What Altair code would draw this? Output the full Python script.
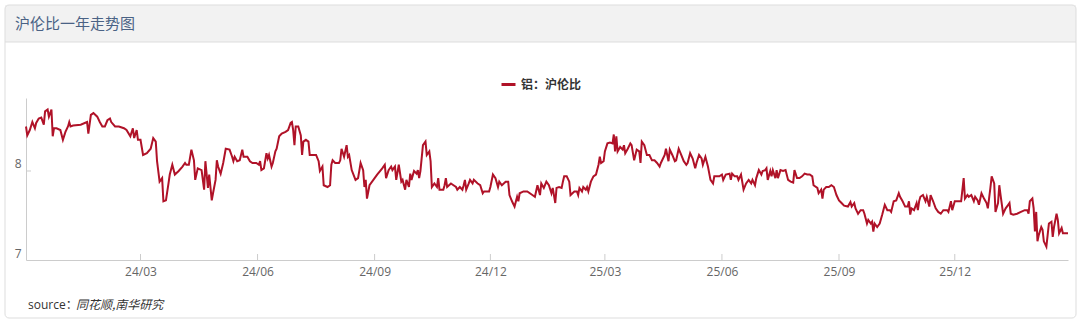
import altair as alt
import pandas as pd

# ---------------- data ----------------
START_DATE = "2023-12-02"
series_name = "铝：沪伦比"
header_title = "沪伦比一年走势图"
source_label = "source："
source_text = "同花顺,南华研究"
x_tick_dates = ["2024-03-01", "2024-06-01", "2024-09-01", "2024-12-01",
                "2025-03-01", "2025-06-01", "2025-09-01", "2025-12-01"]
y_tick_values = [7, 8]
y_domain = [7, 8.82]

day_offsets = [
    0, 1, 3, 5, 7, 8, 10, 12, 14, 15, 17, 18, 20, 21, 22, 24, 27, 29, 31, 33,
    34, 35, 37, 43, 48, 49, 51, 53, 56, 58, 60, 62, 64, 66, 67, 70, 73, 77, 79, 82,
    84, 85, 87, 88, 90, 92, 95, 98, 100, 102, 103, 105, 107, 108, 110, 112, 113, 115, 117, 120,
    123, 125, 126, 128, 130, 132, 133, 135, 138, 140, 141, 143, 144, 146, 147, 149, 150, 151, 153, 155,
    157,
    160, 162, 163, 164, 166, 168, 170, 171, 174, 176, 178, 181, 183, 184, 185, 187, 189, 190, 191, 193,
    194, 196, 197, 199, 201, 204, 206, 208, 209, 210, 211, 212, 214, 216, 217, 218, 220, 222, 223, 226,
    228, 230, 231, 233, 234, 237, 239, 240, 241, 243, 246, 247, 248, 250, 252, 253, 254, 256, 259, 261,
    263, 265, 266, 267, 268, 270, 276, 280, 282, 283, 285, 287, 288, 290, 291, 293, 295, 296, 298, 299,
    301, 302, 303, 305, 307, 308, 309, 310, 312, 314, 315, 317, 318, 319, 321, 323, 324, 325,
    328, 329, 330, 331, 334, 336, 338, 339, 341, 343, 344, 345, 346, 348, 349, 351, 352, 355, 357, 359,
    360, 364, 365, 367, 369, 371, 372, 374, 377, 379, 380, 382, 384, 386, 387, 388, 391, 394, 398, 400,
    402, 404, 405, 407, 409, 411, 413, 414, 416, 417, 419, 421, 422, 423, 425, 427, 428, 431, 433, 434,
    435, 437, 438, 440, 441, 442, 444, 446, 448, 450, 451, 452, 454, 455, 457, 459, 461, 462, 463, 464,
    465, 467, 469, 470, 471, 473, 475, 476, 478, 480, 482, 483, 484, 486, 488, 490,
    492, 494, 496, 498, 499, 502, 503, 505, 506, 508, 510, 511, 513, 515, 517, 519, 520, 522, 524, 526,
    527, 529, 531, 532, 534, 536, 538, 540, 541, 545, 547, 548, 550, 553, 554, 555, 557, 559, 560, 562,
    564, 566, 568, 570, 571, 573, 574, 576, 578, 579, 581, 582, 583, 585, 586, 587, 589, 590, 591, 593,
    595, 597, 599, 601, 603, 604, 606, 608, 610, 612, 614, 616, 618, 619, 622, 623, 625, 626, 627, 629,
    631, 633, 635, 637, 639, 641, 643, 646, 648, 649, 651, 652, 654, 656,
    658, 659, 661, 662, 664, 665, 666, 667, 669, 671, 673, 675, 677, 679, 680, 682, 684, 686, 687, 689,
    691, 693, 694, 695, 696, 698, 700, 701, 702, 703, 705, 707, 708, 710, 711, 713, 715, 717, 719, 721,
    724, 725, 727, 728, 730, 732, 735, 737, 738, 740, 741, 743, 745, 746, 748, 749, 751, 753, 755, 756,
    758, 759, 761, 762, 764, 765, 766, 768, 770, 772, 773, 774, 776, 779, 782, 785, 787, 788, 789, 791,
    792, 793, 794, 795, 796, 798, 799, 800, 802, 803, 804, 806, 807, 808, 810, 811, 812, 814, 815, 817,
    819,
]

ratio_values = [
    8.50, 8.40, 8.46, 8.55, 8.48, 8.54, 8.59, 8.60, 8.52, 8.67, 8.69, 8.61, 8.69, 8.39, 8.48, 8.48, 8.46, 8.35, 8.44, 8.50,
    8.55, 8.50, 8.51, 8.52, 8.55, 8.42, 8.63, 8.65, 8.61, 8.55, 8.50, 8.50, 8.57, 8.59, 8.55, 8.50, 8.50, 8.48, 8.46, 8.39,
    8.48, 8.37, 8.46, 8.35, 8.35, 8.18, 8.20, 8.25, 8.37, 8.33, 8.11, 7.88, 7.92, 7.66, 7.67, 7.86, 7.96, 8.07, 7.96, 8.00,
    8.05, 8.09, 8.07, 8.07, 8.24, 8.12, 7.90, 8.03, 8.01, 7.79, 8.11, 7.81, 7.96, 7.67, 7.75, 7.90, 8.12, 8.05, 7.97, 8.09,
    8.25,
    8.24, 8.16, 8.11, 8.16, 8.11, 8.12, 8.24, 8.16, 8.16, 8.11, 8.09, 8.09, 8.07, 8.11, 8.01, 8.03, 8.20, 8.14, 8.18, 8.05,
    8.09, 8.22, 8.25, 8.39, 8.42, 8.44, 8.46, 8.54, 8.55, 8.46, 8.29, 8.50, 8.50, 8.40, 8.18, 8.33, 8.35, 8.33, 8.18, 8.18,
    8.18, 8.11, 8.00, 8.05, 7.84, 7.82, 7.84, 8.07, 8.12, 8.09, 8.09, 8.12, 8.25, 8.16, 8.29, 8.16, 8.18, 8.01, 7.90, 7.92,
    8.09, 8.01, 7.82, 7.90, 7.69, 7.84, 7.96, 8.03, 8.07, 7.92, 8.01, 8.05, 8.01, 8.05, 7.90, 8.07, 7.88, 7.90, 7.79, 7.90,
    7.82, 7.97, 7.90, 8.00, 7.97, 8.01, 7.92, 8.00, 8.29, 8.33, 8.18, 8.22, 8.11, 7.82, 7.86, 7.82, 7.92, 7.79,
    7.79, 7.84, 7.92, 7.82, 7.86, 7.84, 7.82, 7.79, 7.82, 7.79, 7.84, 7.90, 7.79, 7.86, 7.90, 7.86, 7.90, 7.86, 7.84, 7.75,
    7.77, 7.77, 7.82, 7.96, 7.92, 7.82, 7.88, 7.84, 7.88, 7.88, 7.73, 7.66, 7.60, 7.71, 7.66, 7.75, 7.77, 7.77, 7.73, 7.71,
    7.84, 7.73, 7.86, 7.81, 7.88, 7.84, 7.75, 7.81, 7.64, 7.81, 7.82, 7.81, 7.88, 7.94, 7.94, 7.88, 7.73, 7.77, 7.77, 7.73,
    7.81, 7.77, 7.82, 7.79, 7.82, 7.77, 7.88, 7.94, 7.96, 8.07, 8.16, 8.09, 8.11, 8.22, 8.31, 8.32, 8.31, 8.41, 8.22, 8.39,
    8.22, 8.27, 8.24, 8.29, 8.20, 8.25, 8.31, 8.29, 8.12, 8.24, 8.22, 8.09, 8.33, 8.29, 8.18, 8.18,
    8.12, 8.12, 8.09, 8.05, 8.09, 8.18, 8.25, 8.11, 8.24, 8.18, 8.11, 8.12, 8.25, 8.18, 8.11, 8.07, 8.09, 8.20, 8.14, 8.03,
    8.09, 8.18, 8.14, 8.07, 8.16, 8.05, 7.90, 7.86, 7.94, 7.94, 7.96, 7.90, 7.96, 7.97, 7.90, 7.97, 7.94, 7.94, 7.90, 7.96,
    7.79, 7.86, 7.90, 7.86, 7.90, 7.84, 7.92, 8.01, 7.96, 8.00, 8.01, 8.03, 7.90, 8.00, 7.94, 8.01, 7.92, 8.01, 7.92, 8.01,
    8.00, 8.01, 7.90, 7.88, 7.87, 8.01, 7.92, 7.92, 7.94, 7.97, 7.96, 7.96, 7.94, 7.84, 7.81, 7.75, 7.79, 7.69, 7.79, 7.82,
    7.82, 7.84, 7.82, 7.73, 7.67, 7.64, 7.61, 7.60, 7.65, 7.60, 7.64, 7.58, 7.52, 7.56,
    7.56, 7.52, 7.41, 7.45, 7.41, 7.43, 7.32, 7.41, 7.37, 7.41, 7.51, 7.62, 7.56, 7.56, 7.54, 7.66, 7.67, 7.75, 7.71, 7.66,
    7.60, 7.60, 7.66, 7.51, 7.58, 7.56, 7.64, 7.56, 7.66, 7.71, 7.73, 7.66, 7.71, 7.60, 7.73, 7.66, 7.58, 7.54, 7.52, 7.56,
    7.56, 7.54, 7.66, 7.56, 7.66, 7.66, 7.66, 7.92, 7.69, 7.73, 7.71, 7.73, 7.66, 7.71, 7.67, 7.62, 7.75, 7.69, 7.64, 7.58,
    7.81, 7.94, 7.86, 7.54, 7.64, 7.84, 7.73, 7.52, 7.58, 7.62, 7.64, 7.52, 7.51, 7.52, 7.54, 7.56, 7.56, 7.52, 7.66, 7.69,
    7.58, 7.32, 7.54, 7.21, 7.28, 7.37, 7.34, 7.21, 7.15, 7.28, 7.41, 7.43, 7.26, 7.37, 7.52, 7.45, 7.30, 7.36, 7.30, 7.30,
    7.30,
]

assert len(day_offsets) == len(ratio_values)

dates = pd.Timestamp(START_DATE) + pd.to_timedelta(day_offsets, unit="D")
df = pd.DataFrame({"date": dates, "value": ratio_values, "series": series_name})
ticks_df = pd.DataFrame({"date": pd.to_datetime(x_tick_dates)})
one = pd.DataFrame({"k": [0]})

LATIN = "Open Sans, Noto Sans CJK SC, sans-serif"
CJK = "Noto Sans CJK SC, sans-serif"
LINE_COLOR = "#b01228"
W, H = 1042, 162

x_axis_vals = [alt.DateTime(year=int(d[:4]), month=int(d[5:7]), date=int(d[8:10])) for d in x_tick_dates]

x_enc = alt.X(
    "date:T",
    title=None,
    scale=alt.Scale(nice=False),
    axis=alt.Axis(
        values=x_axis_vals, format="%y/%m", grid=False, ticks=False,
        domainColor="#cccccc", labelColor="#666666", labelFontSize=12,
        labelFont=LATIN, labelPadding=6, labelFlush=False,
    ),
)
y_enc = alt.Y(
    "value:Q",
    title=None,
    scale=alt.Scale(domain=y_domain, nice=False, zero=False),
    axis=alt.Axis(
        values=y_tick_values, format="d", grid=False, ticks=False, domainColor="#cccccc",
        labelColor="#666666", labelFontSize=12, labelFont=LATIN,
        labelPadding=5, labelBaseline="bottom",
    ),
)

# panel decoration (header band + frame)
header = alt.Chart(one).mark_rect(fill="#f2f2f2").encode(
    x=alt.value(-21), x2=alt.value(1050), y=alt.value(-93), y2=alt.value(-56)
)
header_line = alt.Chart(one).mark_rule(color="#dddddd", strokeWidth=1).encode(
    x=alt.value(-21), x2=alt.value(1050), y=alt.value(-56)
)
frame = alt.Chart(one).mark_rect(
    fill=None, stroke="#dddddd", strokeWidth=1, cornerRadius=4
).encode(x=alt.value(-21), x2=alt.value(1050), y=alt.value(-93), y2=alt.value(220))
title_text = alt.Chart(one).mark_text(
    text=header_title, align="left", baseline="middle", fontSize=15,
    color="#4a6285", font=CJK
).encode(x=alt.value(-11), y=alt.value(-74))

source_a = alt.Chart(one).mark_text(
    text=source_label, align="left", baseline="middle", fontSize=12,
    color="#333333", font=LATIN
).encode(x=alt.value(2), y=alt.value(207))
source_b = alt.Chart(one).mark_text(
    text=source_text, align="left", baseline="middle", fontSize=12,
    color="#333333", font=CJK, fontStyle="italic"
).encode(x=alt.value(50), y=alt.value(207))

line = alt.Chart(df).mark_line(strokeWidth=2, interpolate="linear").encode(
    x=x_enc,
    y=y_enc,
    color=alt.Color(
        "series:N",
        scale=alt.Scale(range=[LINE_COLOR]),
        legend=alt.Legend(
            orient="none", legendX=474, legendY=-22, title=None,
            symbolType="stroke", symbolStrokeWidth=3, symbolSize=196,
            labelFontSize=12, labelFontWeight="bold", labelColor="#333333",
            labelFont=CJK, padding=0,
        ),
    ),
)

x_ticks = alt.Chart(ticks_df).mark_rule(color="#cccccc", strokeWidth=1).encode(
    x=x_enc, y=alt.value(H - 6), y2=alt.value(H)
)
y_ticks = alt.Chart(one).mark_rule(color="#cccccc", strokeWidth=1).encode(
    y=alt.datum(8), x=alt.value(0), x2=alt.value(5)
)

chart = alt.layer(
    header, header_line, frame, title_text, source_a, source_b, line, x_ticks, y_ticks
).properties(
    width=W, height=H,
    autosize=alt.AutoSizeParams(type="none"),
    padding={"left": 26, "top": 98, "right": 12, "bottom": 62},
    background="white",
).configure_view(stroke=None)

chart.save("out.html", embed_options={"renderer": "svg", "actions": False})
